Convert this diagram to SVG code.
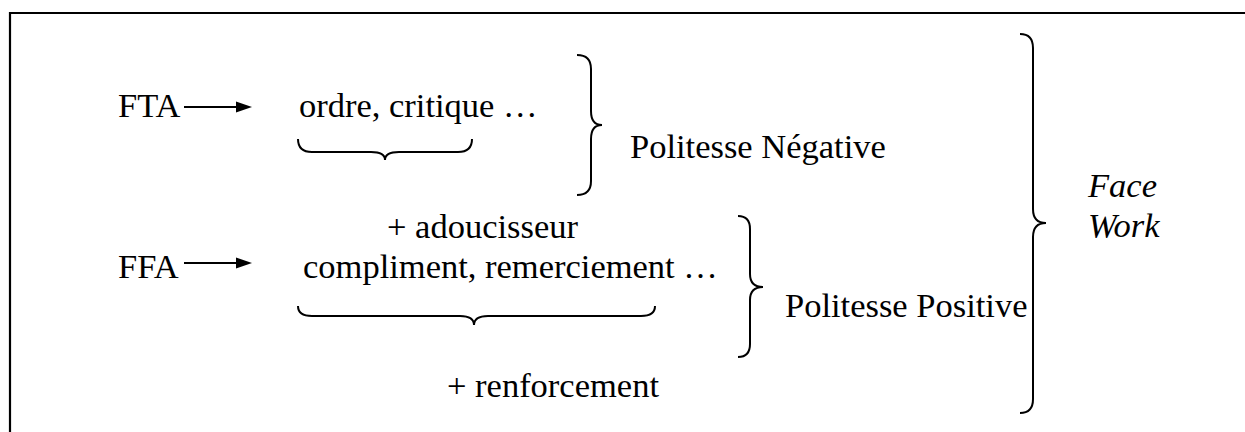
<svg xmlns="http://www.w3.org/2000/svg" width="1245" height="432" viewBox="0 0 1245 432">
<style>
.t{font-size:34.5px;fill:#000}
.it{font-style:italic}
.br{fill:none;stroke:#000;stroke-width:2}
.ar{stroke:#000;stroke-width:2.2;fill:none}
.ah{fill:#000}
</style>
<rect width="1245" height="432" fill="#fff"/>
<path d="M10,432 V13 H1245" fill="none" stroke="#000" stroke-width="2.2"/>
<g font-family="'Liberation Serif', 'Times New Roman', 'DejaVu Serif', serif">
<g id="fta"><text class="t" x="118" y="117">FTA</text></g>
<g id="ffa"><text class="t" x="118" y="278">FFA</text></g>
<g id="ordre"><text class="t" x="299" y="117">ordre, critique …</text></g>
<g id="adoucisseur"><text class="t" x="387" y="238">+ adoucisseur</text></g>
<g id="compliment"><text class="t" x="303" y="278">compliment, remerciement …</text></g>
<g id="renforcement"><text class="t" x="447" y="397">+ renforcement</text></g>
<g id="pol-neg"><text class="t" x="630" y="158">Politesse Négative</text></g>
<g id="pol-pos"><text class="t" x="785" y="317">Politesse Positive</text></g>
<g id="facework"><text class="t it" x="1088" y="197">Face</text><text class="t it" x="1088" y="237">Work</text></g>
</g>
<g id="connectors">
<path d="M184,107 H238" class="ar"/><path class="ah" d="M236,101.5 L252,107 L236,112.5 Z"/>
<path d="M184,263 H238" class="ar"/><path class="ah" d="M236,257.5 L252,263 L236,268.5 Z"/>
<path class="br" d="M298,139 Q298,152 312,152 L371,152 Q385,152 385,160 Q385,152 399,152 L458,152 Q472,152 472,139"/>
<path class="br" d="M298,306 Q298,316 312,316 L460,316 Q474,316 474,325 Q474,316 488,316 L641,316 Q655,316 655,306"/>
<path class="br" d="M577,55 Q591,55 591,69 L591,111 Q591,125 602,125 Q591,125 591,139 L591,181 Q591,195 577,195"/>
<path class="br" d="M738,216 Q750,216 750,229 L750,274 Q750,287 763,287 Q750,287 750,300 L750,344 Q750,357 738,357"/>
<path class="br" d="M1020,34 Q1033,34 1033,48 L1033,209 Q1033,223 1046,223 Q1033,223 1033,237 L1033,399 Q1033,413 1020,413"/>
</g>
</svg>
